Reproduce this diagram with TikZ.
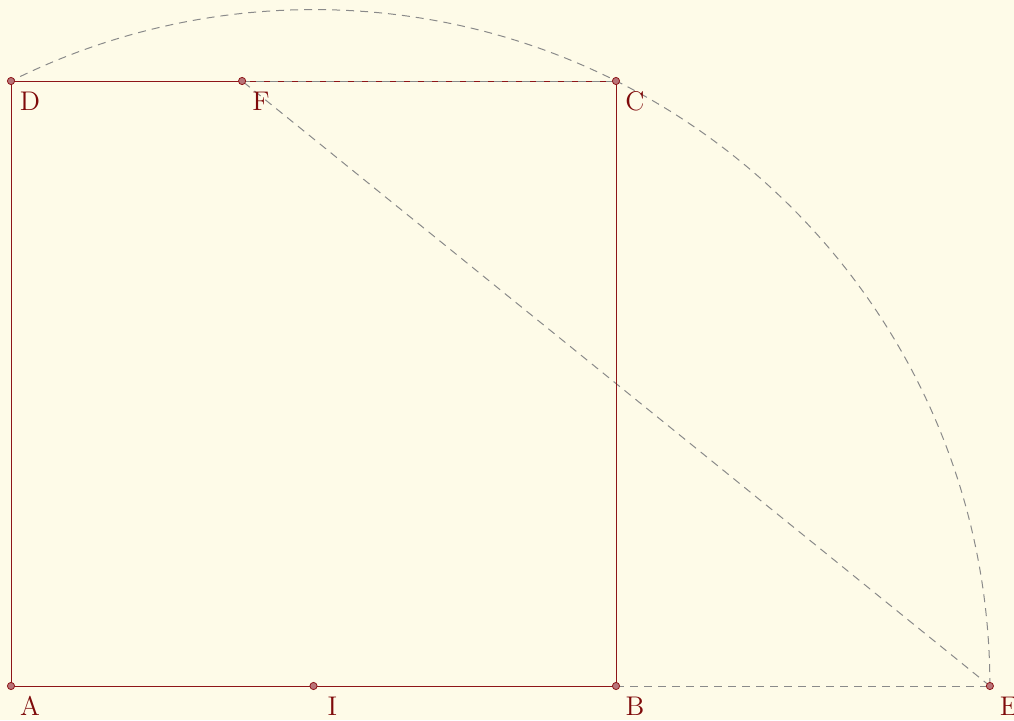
\documentclass[tikz,border=0pt]{standalone}
\usetikzlibrary{calc}
\definecolor{bg}{HTML}{FEFBE8}
\definecolor{seg}{HTML}{8E1518}
\definecolor{lab}{HTML}{7F0A0A}
\definecolor{ptfill}{HTML}{B97478}
\definecolor{dgray}{HTML}{8A8A8A}
\begin{document}
\begin{tikzpicture}[x=0.5pt,y=0.5pt,
  segline/.style={draw=seg,line width=0.5pt},
  construct/.style={draw=dgray,line width=0.5pt,dash pattern=on 4pt off 3pt},
  pt/.style={circle,draw=seg,fill=ptfill,line width=0.4pt,inner sep=0pt,minimum size=3.6pt},
  lbl/.style={text=lab,font=\fontsize{13.5}{16}\selectfont,inner sep=0pt}]
\fill[bg] (0,0) rectangle (1014,720);
\useasboundingbox (0,0) rectangle (1014,720);
\coordinate (A) at (11,34);
\coordinate (B) at (616,34);
\coordinate (C) at (616,639);
\coordinate (D) at (11,639);
\coordinate (I) at (313.5,34);
\coordinate (E) at (989.9,34);
\coordinate (F) at (242.1,639);
% construction lines
\draw[construct] (B) -- (E);
\draw[construct] (E) -- (F);
\draw[construct] (E) arc[start angle=0,end angle=116.565,radius=676.4];
% square
\draw[segline] (A) -- (B) -- (C) -- (D) -- cycle;
\draw[construct] (F) -- (C);
% points
\foreach \p in {A,B,C,D,I,E,F}{
  \node[pt] (p\p) at (\p) {};
  \node[lbl] (l\p) at ($(\p)+(19,-20)$) {\p};
}
\end{tikzpicture}
\end{document}
